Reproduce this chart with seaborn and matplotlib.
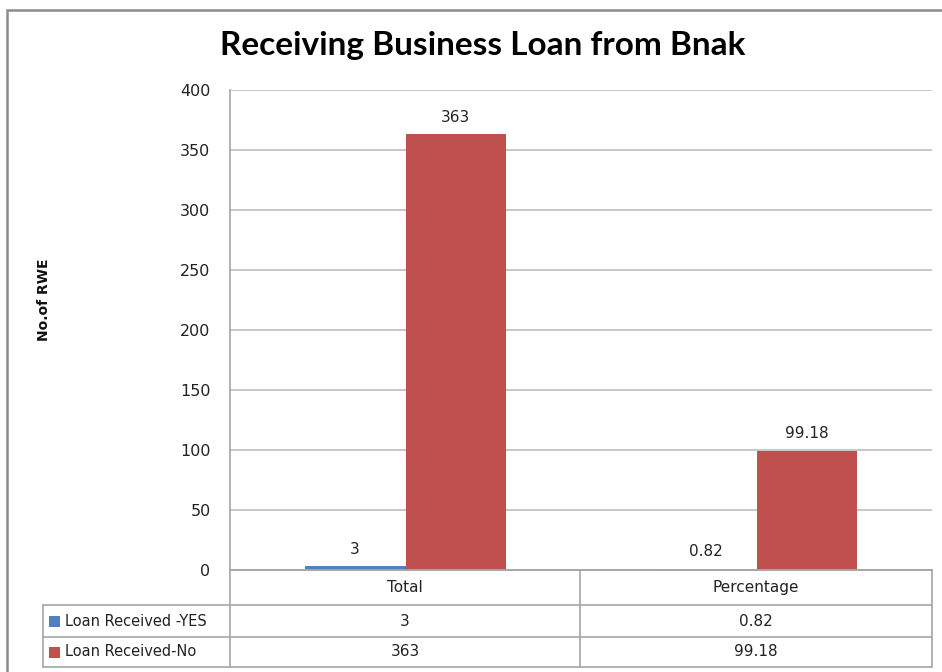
import matplotlib
matplotlib.use("Agg")
import matplotlib.pyplot as plt
from matplotlib.patches import Rectangle
from matplotlib.lines import Line2D
import seaborn as sns
import pandas as pd

# Chart data
categories = ["Total", "Percentage"]
series = ["Loan Received -YES", "Loan Received-No"]
yes_values = [3, 0.82]
no_values = [363, 99.18]
yes_labels = ["3", "0.82"]
no_labels = ["363", "99.18"]
y_ticks = [0, 50, 100, 150, 200, 250, 300, 350, 400]

colors = ["#4F81BD", "#C0504D"]
grid_gray = "#BDBDBD"
table_gray = "#A6A6A6"

df = pd.DataFrame({
    "category": categories * 2,
    "series": [series[0]] * 2 + [series[1]] * 2,
    "value": yes_values + no_values,
})

sns.set_theme(style="white")
plt.rcParams["font.family"] = ["DejaVu Sans"]

W, H = 942, 672
fig = plt.figure(figsize=(W / 100, H / 100), dpi=100)


def fx(px):
    return px / W


def fy(py):
    return 1 - py / H


ax_left, ax_right, ax_top, ax_bottom = 230, 932, 90, 570
ax = fig.add_axes([fx(ax_left), fy(ax_bottom), fx(ax_right - ax_left),
                   (ax_bottom - ax_top) / H])

sns.barplot(data=df, x="category", y="value", hue="series",
            order=categories, hue_order=series, palette=colors,
            width=0.574, saturation=1, linewidth=0, ax=ax, legend=False)

ax.set_ylim(0, 400)
ax.set_xlim(-0.5, 1.5)
ax.set_yticks(y_ticks)
ax.set_yticklabels([str(t) for t in y_ticks], fontsize=11.5, color="#222222")
ax.tick_params(axis="y", length=0, pad=14)
ax.set_xticks([])
ax.set_xlabel("")
ax.set_ylabel("No.of RWE", fontsize=10, fontweight="bold", color="#111111")
ax.yaxis.set_label_coords(-0.255, 0.5625)

for t in y_ticks[1:]:
    ax.axhline(t, color=grid_gray, lw=1.2, zorder=0)
ax.set_axisbelow(True)
for s in ["top", "right"]:
    ax.spines[s].set_visible(False)
ax.spines["left"].set_color(table_gray)
ax.spines["bottom"].set_color(table_gray)
ax.spines["left"].set_linewidth(1.2)
ax.spines["bottom"].set_linewidth(1.2)

# value labels above each bar
for cont, labs in zip(ax.containers, [yes_labels, no_labels]):
    ax.bar_label(cont, labels=labs, padding=7, fontsize=11, color="#222222")

# Title
fig.text(fx(483), fy(45), "Receiving Business Loan from Bnak",
         ha="center", va="center", fontsize=24, fontweight="bold",
         family="Lato", color="#000000")

# Outer chart frame
fig.add_artist(Rectangle((fx(7), fy(700)), fx(960 - 7), (700 - 10) / H,
                         transform=fig.transFigure, fill=False,
                         edgecolor="#8C8C8C", lw=1.8))

# Data table below the plot
tbl_left = 43
col_edges = [ax_left, 580, ax_right]
row_edges = [570, 605, 637, 667]


def hline(x0, x1, y):
    fig.add_artist(Line2D([fx(x0), fx(x1)], [fy(y), fy(y)],
                          transform=fig.transFigure, color=table_gray, lw=1.2))


def vline(x, y0, y1):
    fig.add_artist(Line2D([fx(x), fx(x)], [fy(y0), fy(y1)],
                          transform=fig.transFigure, color=table_gray, lw=1.2))


hline(ax_left, ax_right, row_edges[0])
for y in row_edges[1:]:
    hline(tbl_left, ax_right, y)
for x in col_edges:
    vline(x, row_edges[0], row_edges[-1])
vline(tbl_left, row_edges[1], row_edges[-1])

col_centers = [(col_edges[i] + col_edges[i + 1]) / 2 for i in range(2)]
for cx, cat in zip(col_centers, categories):
    fig.text(fx(cx), fy((row_edges[0] + row_edges[1]) / 2), cat,
             ha="center", va="center", fontsize=11, color="#222222")

rows = [(series[0], colors[0], yes_labels), (series[1], colors[1], no_labels)]
for i, (name, col, labs) in enumerate(rows):
    yc = (row_edges[i + 1] + row_edges[i + 2]) / 2
    fig.add_artist(Rectangle((fx(49), fy(yc + 5.5)), fx(11), 11 / H,
                             transform=fig.transFigure, color=col, lw=0))
    fig.text(fx(65), fy(yc), name, ha="left", va="center",
             fontsize=10.5, color="#222222")
    for cx, lab in zip(col_centers, labs):
        fig.text(fx(cx), fy(yc), lab, ha="center", va="center",
                 fontsize=11, color="#222222")

fig.savefig("out.png", dpi=100)
